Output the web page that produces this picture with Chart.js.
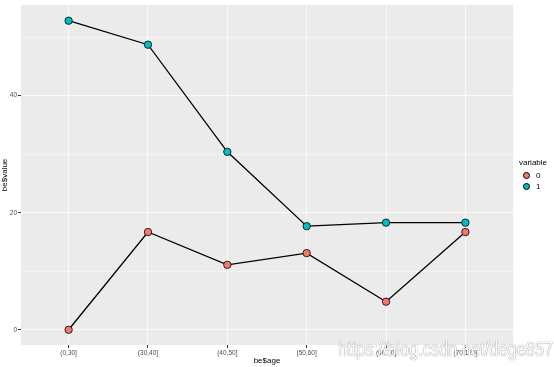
<!DOCTYPE html>
<html lang="en">
<head>
    <meta charset="UTF-8">
    <title>be$value by be$age</title>
    <script src="https://cdn.jsdelivr.net/npm/chart.js"></script>
</head>
<style>
    body {
    margin: 0;
    background: #fff;
    font-family: "Liberation Sans", Arial, sans-serif;
}

.wrap {
    position: relative;
    width: 554px;
    height: 367px;
    overflow: hidden;
}

.legend {
    position: absolute;
    left: 519px;
    top: 158px;
    font-size: 8px;
    color: #000;
}

.legend .row {
    display: flex;
    align-items: center;
    height: 11px;
    margin-left: 4px;
}

.legend .dot {
    width: 7px;
    height: 7px;
    border-radius: 50%;
    border: 1px solid #000;
    margin-right: 6px;
    box-sizing: border-box;
}

.mark {
    position: absolute;
    left: 338px;
    top: 338px;
    font-size: 20px;
    color: #fff;
    white-space: nowrap;
    transform: scaleX(0.82);
    transform-origin: left top;
    text-shadow: 0 0 1px #888, 0 0 1px #888;
}
</style>
<body>
    <div class="wrap">
        <canvas id="chart" width="554" height="367"></canvas>
        <div class="legend">
            <div style="margin-bottom:3px">variable</div>
            <div class="row"><span class="dot" style="background:#F8766D"></span>0</div>
            <div class="row"><span class="dot" style="background:#00BFC4"></span>1</div>
        </div>
        <div class="mark">https://blog.csdn.net/dege857</div>
    </div>
    <script>
    // values
    const ageLabels = ['(0,30]', '(30,40]', '(40,50]', '(50,60]', '(60,70]', '(70,120]'];
    const value0 = [0, 16.7, 11.1, 13.1, 4.8, 16.7];
    const value1 = [52.8, 48.7, 30.4, 17.7, 18.3, 18.3];
    const yTicks = [0, 10, 20, 30, 40, 50];
    const yMajor = [0, 20, 40];

    const toPoints = vals => vals.map((v, i) => ({ x: i, y: v }));

    const panelBg = {
        id: 'panelBg',
        beforeDraw(chart) {
            const { ctx, chartArea: a } = chart;
            ctx.save();
            ctx.fillStyle = '#EBEBEB';
            ctx.fillRect(a.left, a.top, a.right - a.left, a.bottom - a.top);
            ctx.restore();
        }
    };

    const pointStyle = color => ({
        borderColor: '#000',
        borderWidth: 1.3,
        pointBackgroundColor: color,
        pointBorderColor: '#000',
        pointBorderWidth: 0.8,
        pointRadius: 3.7,
        tension: 0
    });

    new Chart(document.getElementById('chart'), {
        type: 'line',
        data: {
            datasets: [
                Object.assign({ label: '0', data: toPoints(value0) }, pointStyle('#F8766D')),
                Object.assign({ label: '1', data: toPoints(value1) }, pointStyle('#00BFC4'))
            ]
        },
        options: {
            responsive: false,
            animation: false,
            layout: { padding: { top: 3, right: 41, left: 0, bottom: 0 } },
            plugins: { legend: { display: false }, tooltip: { enabled: false } },
            scales: {
                x: {
                    type: 'linear',
                    min: -0.6,
                    max: 5.6,
                    afterBuildTicks: s => { s.ticks = ageLabels.map((c, i) => ({ value: i })); },
                    afterFit: s => { s.height = 22; },
                    ticks: {
                        autoSkip: false,
                        maxRotation: 0,
                        padding: 1,
                        color: '#4D4D4D',
                        font: { size: 6.5, family: 'Liberation Sans' },
                        callback: v => ageLabels[v]
                    },
                    grid: { color: '#FAFAFA', lineWidth: 1, tickLength: 3, tickColor: '#333' },
                    border: { display: false },
                    title: {
                        display: true,
                        text: 'be$age',
                        color: '#000',
                        font: { size: 8, family: 'Liberation Sans' },
                        padding: { top: 0, bottom: 1 }
                    }
                },
                y: {
                    min: -2.6,
                    max: 55.5,
                    afterBuildTicks: s => { s.ticks = yTicks.map(v => ({ value: v })); },
                    afterFit: s => { s.width = 21; },
                    ticks: {
                        padding: 1,
                        color: '#4D4D4D',
                        font: { size: 6.5, family: 'Liberation Sans' },
                        callback: v => yMajor.includes(v) ? String(v) : ''
                    },
                    grid: {
                        color: '#FAFAFA',
                        lineWidth: c => yMajor.includes(c.tick.value) ? 1 : 0.5,
                        tickLength: 3,
                        tickColor: c => yMajor.includes(c.tick.value) ? '#333' : 'rgba(0,0,0,0)'
                    },
                    border: { display: false },
                    title: {
                        display: true,
                        text: 'be$value',
                        color: '#000',
                        font: { size: 8, family: 'Liberation Sans' },
                        padding: { top: 0, bottom: 2 }
                    }
                }
            }
        },
        plugins: [panelBg]
    });
    </script>
</body>
</html>
